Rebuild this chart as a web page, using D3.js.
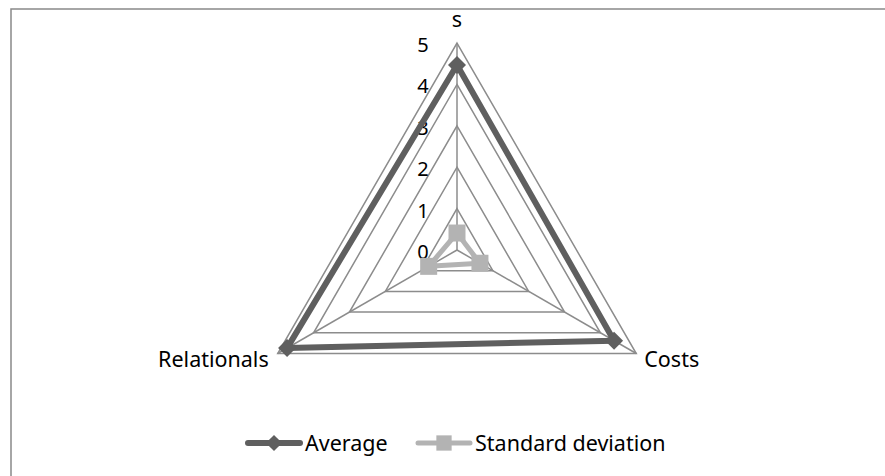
<!DOCTYPE html>
<html>
<head>
<meta charset="utf-8">
<script src="https://cdn.jsdelivr.net/npm/d3@7"></script>
<style>
  body { margin: 0; background: #fff; }
  text { font-family: "Noto Sans", "Open Sans", sans-serif; fill: #000; }
</style>
</head>
<body>
<svg id="chart" width="885" height="476"></svg>
<script>
const categories = ["s", "Costs", "Relationals"];
const average = [4.47, 4.38, 4.74];
const stdDev = [0.41, 0.64, 0.79];
const ticks = [0, 1, 2, 3, 4, 5];
const seriesNames = ["Average", "Standard deviation"];

const svg = d3.select("#chart");

const width = 885;
const height = 476;
const cx = 457;
const cy = 250;
const radius = 207;

const COLORS = {
  grid: "#8c8c8c",
  average: "#5f5f5f",
  std: "#b3b3b3",
  border: "#898989"
};

// frame, only left and top fall inside the window
svg.append("rect")
    .attr("x", 11)
    .attr("y", 9)
    .attr("width", width)
    .attr("height", height)
    .attr("fill", "none")
    .attr("stroke", COLORS.border)
    .attr("stroke-width", 1.5);

const r = d3.scaleLinear()
    .domain([0, 5])
    .range([0, radius]);

const angle = d3.scalePoint()
    .domain(categories)
    .range([-Math.PI / 2, -Math.PI / 2 + 2 * Math.PI * 2 / 3]);

function point(cat, v) {
  const a = angle(cat);
  return [cx + r(v) * Math.cos(a), cy + r(v) * Math.sin(a)];
}

const line = d3.line();

// grid rings
svg.selectAll("path.ring")
    .data(ticks.filter(t => t > 0))
    .enter()
    .append("path")
    .attr("class", "ring")
    .attr("d", t => line(categories.map(c => point(c, t))) + "Z")
    .attr("fill", "none")
    .attr("stroke", COLORS.grid)
    .attr("stroke-width", 1.5);

// spokes
svg.selectAll("line.spoke")
    .data(categories)
    .enter()
    .append("line")
    .attr("class", "spoke")
    .attr("x1", cx)
    .attr("y1", cy)
    .attr("x2", c => point(c, 5)[0])
    .attr("y2", c => point(c, 5)[1])
    .attr("stroke", COLORS.grid)
    .attr("stroke-width", 1.5);

// tick labels along top axis
svg.selectAll("text.tick")
    .data(ticks)
    .enter()
    .append("text")
    .attr("class", "tick")
    .attr("x", cx - 34)
    .attr("y", t => cy - r(t) + 2)
    .attr("dy", "0.35em")
    .attr("text-anchor", "middle")
    .attr("font-size", 20)
    .text(t => t);

function drawSeries(values, color, width, marker) {
  const pts = categories.map((c, i) => point(c, values[i]));
  svg.append("path")
      .attr("d", line(pts) + "Z")
      .attr("fill", "none")
      .attr("stroke", color)
      .attr("stroke-width", width)
      .attr("stroke-linejoin", "round");
  svg.selectAll(null)
      .data(pts)
      .enter()
      .append("path")
      .attr("transform", d => `translate(${d[0]},${d[1]})`)
      .attr("d", marker)
      .attr("fill", color);
}

const diamond = "M0,-9L9,0L0,9L-9,0Z";
const square = "M-8.5,-8.5H8.5V8.5H-8.5Z";

drawSeries(average, COLORS.average, 6, diamond);
drawSeries(stdDev, COLORS.std, 5, square);

// category labels
const labelPos = {
  "s": { dx: 0, dy: -24, anchor: "middle" },
  "Costs": { dx: 8, dy: 6, anchor: "start" },
  "Relationals": { dx: -9, dy: 6, anchor: "end" }
};

svg.selectAll("text.cat")
    .data(categories)
    .enter()
    .append("text")
    .attr("class", "cat")
    .attr("x", c => point(c, 5)[0] + labelPos[c].dx)
    .attr("y", c => point(c, 5)[1] + labelPos[c].dy)
    .attr("dy", "0.35em")
    .attr("text-anchor", c => labelPos[c].anchor)
    .attr("font-size", 21.5)
    .text(c => c);

// legend
const legend = [
  { name: seriesNames[0], color: COLORS.average, x: 248, w: 6, marker: diamond },
  { name: seriesNames[1], color: COLORS.std, x: 418, w: 5, marker: square }
];
const ly = 443;

const lg = svg.selectAll("g.legend")
    .data(legend)
    .enter()
    .append("g")
    .attr("class", "legend")
    .attr("transform", d => `translate(${d.x},${ly})`);

lg.append("line")
    .attr("x1", 0)
    .attr("x2", 52)
    .attr("stroke", d => d.color)
    .attr("stroke-width", d => d.w)
    .attr("stroke-linecap", "round");

lg.append("path")
    .attr("transform", "translate(26,0) scale(0.9)")
    .attr("d", d => d.marker)
    .attr("fill", d => d.color);

lg.append("text")
    .attr("x", 57)
    .attr("dy", "0.35em")
    .attr("font-size", 21.5)
    .text(d => d.name);
</script>
</body>
</html>
